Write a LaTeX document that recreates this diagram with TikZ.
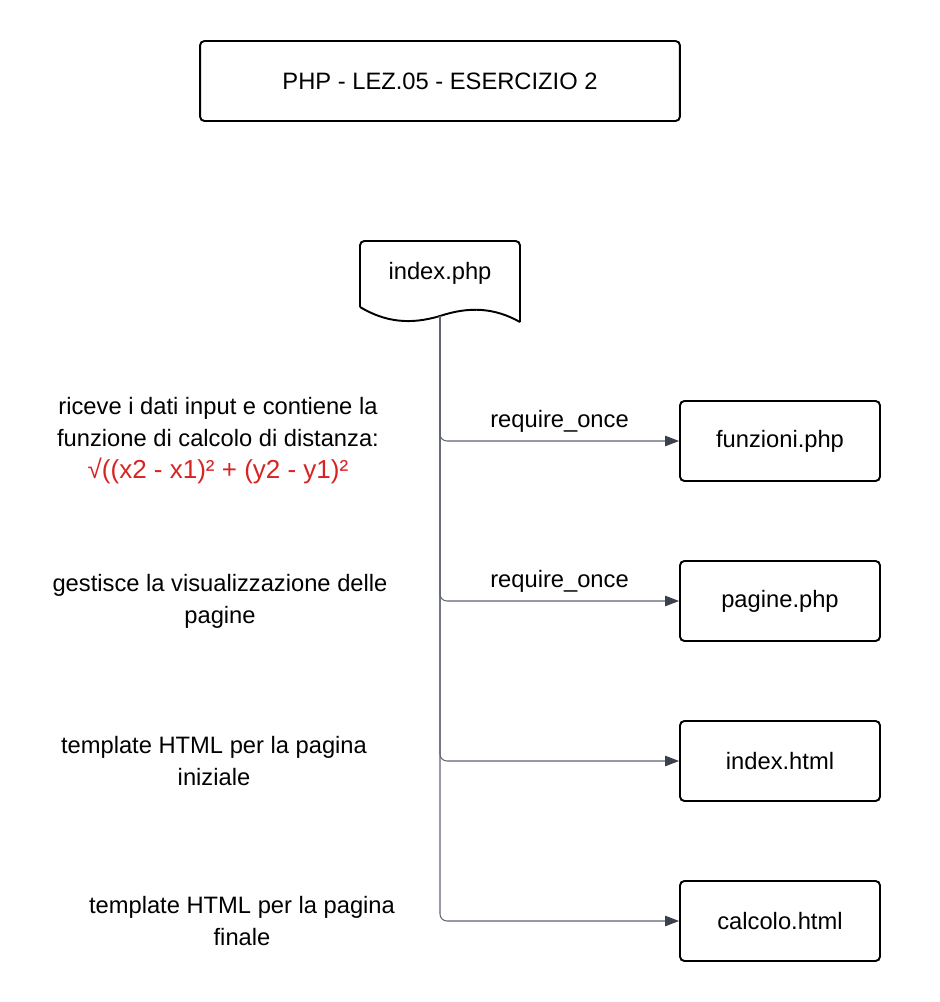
\documentclass[tikz,border=0pt]{standalone}
\usepackage{fontspec}
\setmainfont{Liberation Sans}
\usetikzlibrary{arrows.meta}

\definecolor{formred}{HTML}{D92323}
\definecolor{linkgray}{HTML}{5F6470}
\definecolor{tipgray}{HTML}{3A404C}

\begin{document}
\begin{tikzpicture}[x=0.02cm,y=-0.02cm]
%%%%%%%%%%%%%%%%%%%%%%%%%%%%%%%%%%%%%%%%%%%%%%%%%%%%%%%%
% STYLE
\tikzstyle{case}=[rectangle,draw,line width=1.1pt,rounded corners=2.5pt,minimum width=4cm,minimum height=1.6cm,font=\fontsize{13.5}{18}\selectfont]
\tikzstyle{txt}=[align=center,font=\fontsize{13.5}{18.2}\selectfont]

\tikzset{link/.style={draw=linkgray,line width=0.6pt,rounded corners=4pt,-{Triangle[length=8pt,width=6pt,fill=tipgray,color=tipgray]}}}

\useasboundingbox (0,0) rectangle (940,1002);

%%%%%%%%%%%%%%%%%%%%%%%%%%%%%%%%%%%%%%%%%%%%%%%%%%%%%%%%
% NODES
\node[case,minimum width=9.6cm] (T0) at (440,81) {PHP - LEZ.05 - ESERCIZIO 2};

\node[txt] (D0) at (440,273) {index.php};
\draw[line width=1.1pt,rounded corners=2.5pt] (360,307) -- (360,241) -- (520,241) -- (520,322);
\draw[line width=1.1pt] (360,307) .. controls (385,322) and (410,325) .. (440,316)
  .. controls (470,306) and (495,308) .. (520,322);
\coordinate (D0b) at (440,316);

\node[case] (B1) at (780,441) {funzioni.php};
\node[case] (B2) at (780,601) {pagine.php};
\node[case] (B3) at (780,761) {index.html};
\node[case] (B4) at (780,921) {calcolo.html};

\node[txt] (txt1) at (218,441) {riceve i dati input e contiene la\\funzione di calcolo di distanza:\\\textcolor{formred}{\fontsize{14.8}{18.2}\selectfont √((x2 - x1)² + (y2 - y1)²}};
\node[txt] (txt2) at (220,601) {gestisce la visualizzazione delle\\pagine};
\node[txt] (txt3) at (214,761) {template HTML per la pagina\\iniziale};
\node[txt] (txt4) at (242,921) {template HTML per la pagina\\finale};

%%%%%%%%%%%%%%%%%%%%%%%%%%%%%%%%%%%%%%%%%%%%%%%%%%%%%%%%
% LINKS
\draw[link] (D0b) |- (B1.west) node[txt,pos=0.75,above=1pt] {require\_once};
\draw[link] (D0b) |- (B2.west) node[txt,pos=0.75,above=1pt] {require\_once};
\draw[link] (D0b) |- (B3.west);
\draw[link] (D0b) |- (B4.west);
\end{tikzpicture}
\end{document}
